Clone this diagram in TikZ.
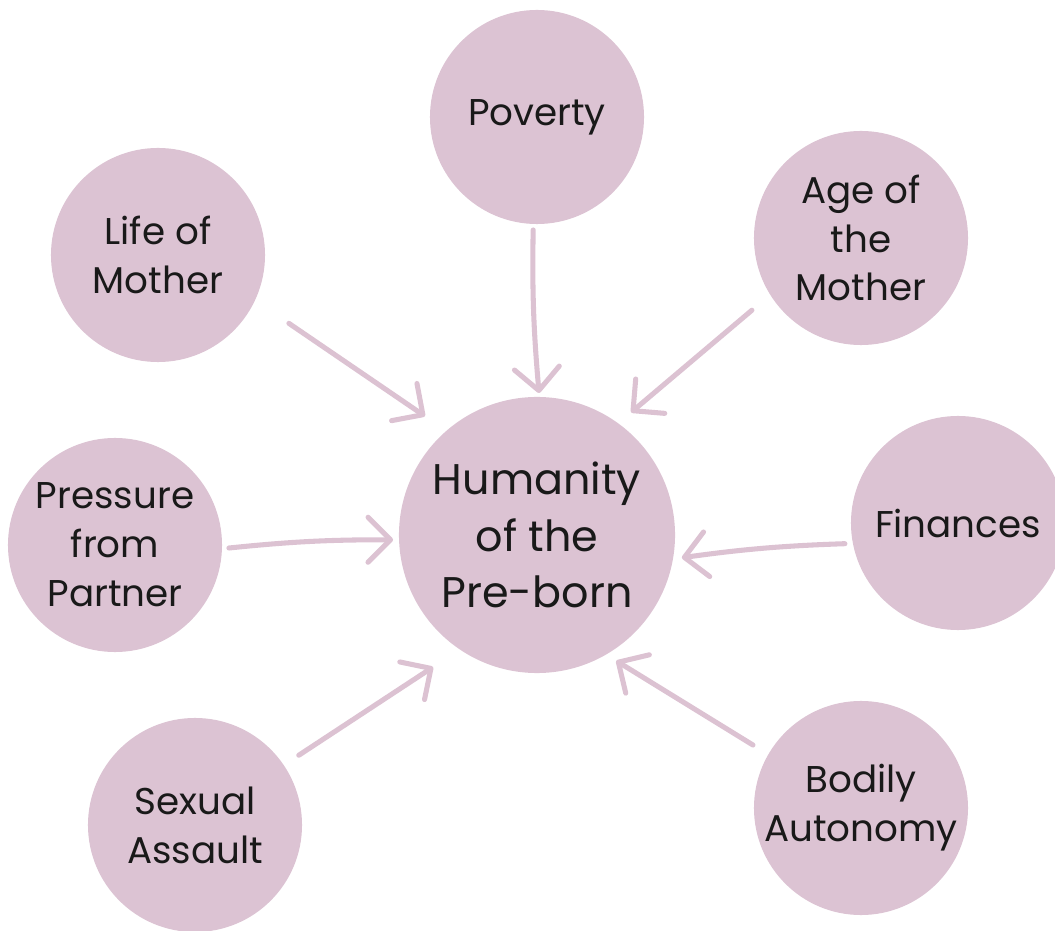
\documentclass[tikz,border=0pt]{standalone}
\usepackage{fontspec}
\setmainfont{Poppins}
\usetikzlibrary{arrows.meta}
\definecolor{mauve}{HTML}{DCC3D3}
\definecolor{mauveline}{HTML}{DCC2D2}
\begin{document}
\begin{tikzpicture}[x=0.025cm, y=-0.025cm,
  factor/.style={circle, fill=mauve, minimum size=5.35cm, inner sep=0pt, outer sep=0pt, align=center, text=black!90, font=\fontsize{26.5}{34.8}\selectfont},
  hub/.style={circle, fill=mauve, minimum size=6.9cm, inner sep=0pt, outer sep=0pt, align=center, text=black!90, font=\fontsize{30.5}{40.4}\selectfont},
  pull/.style={-{Straight Barb[length=16pt, width=32pt, round]}, line width=3.6pt, draw=mauveline, line cap=round}]
\useasboundingbox (0,0) rectangle (1055,931);
\node[hub] (humanity) at (537,535) {Humanity\\of the\\Pre-born};
\node[factor] (poverty) at (537,117) {Poverty};
\node[factor] (life) at (158,255) {Life of\\Mother};
\node[factor] (age) at (861,238) {Age of\\the\\Mother};
\node[factor] (pressure) at (115,545) {Pressure\\from\\Partner};
\node[factor] (finances) at (958,523) {Finances};
\node[factor] (sexual) at (195,825) {Sexual\\Assault};
\node[factor] (bodily) at (861,808) {Bodily\\Autonomy};
\draw[pull, shorten <=0.15cm, shorten >=0.1cm] (poverty.268) to[bend right=3] (humanity.89);
\draw[pull, shorten <=1.025cm, shorten >=0.65cm] (life.335) -- (humanity.131);
\draw[pull, shorten <=0.6cm, shorten >=0.425cm] (age.212) -- (humanity.54);
\draw[pull, shorten <=0.175cm, shorten >=0.15cm] (pressure.358) to[bend left=3] (humanity.182);
\draw[pull, shorten <=0.2cm, shorten >=0.225cm] (finances.191) to[bend right=3] (humanity.350);
\draw[pull, shorten <=0.45cm, shorten >=0.8cm] (sexual.34) -- (humanity.236);
\draw[pull, shorten <=0.45cm, shorten >=0.3cm] (bodily.150) -- (humanity.300);
\end{tikzpicture}
\end{document}
